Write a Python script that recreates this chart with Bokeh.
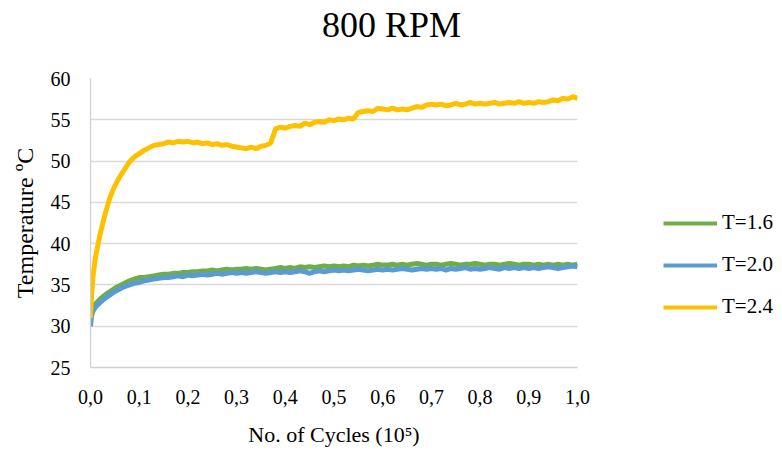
from bokeh.plotting import figure
from bokeh.models import Range1d, FixedTicker, Legend, LegendItem, Label
from bokeh.layouts import column, row
from bokeh.embed import file_html
from bokeh.resources import INLINE

# ---------------- data ----------------
cycles = [0.0, 0.002, 0.005, 0.01, 0.015] + [round(0.02 + 0.01 * i, 3) for i in range(99)]

t24 = [31.0, 33.5, 36.0, 38.3, 39.8,
       41.2, 43.6, 45.6, 47.0, 48.1, 49.0, 49.9, 50.5, 50.9,
       51.3, 51.6, 51.9, 52.0, 52.1, 52.3, 52.2, 52.4, 52.3, 52.4,
       52.2, 52.3, 52.1, 52.2, 52.0, 52.1, 51.9, 52.0, 51.8, 51.7,
       51.6, 51.5, 51.7, 51.5, 51.8, 51.9, 52.2, 53.9, 54.1, 54.0,
       54.2, 54.3, 54.2, 54.6, 54.4, 54.7, 54.8, 54.7, 55.0, 54.9,
       55.1, 55.0, 55.2, 55.1, 55.9, 56.0, 56.1, 56.0, 56.4, 56.3,
       56.2, 56.4, 56.2, 56.3, 56.2, 56.4, 56.6, 56.5, 56.8, 56.9,
       56.8, 56.9, 56.7, 56.8, 57.0, 56.8, 56.9, 57.1, 56.9, 57.0,
       56.9, 57.0, 57.1, 56.9, 57.0, 57.1, 57.0, 57.2, 57.0, 57.1,
       57.0, 57.2, 57.1, 57.2, 57.4, 57.3, 57.6, 57.5, 57.8, 57.6]

t16 = [31.0, 31.8, 32.3, 32.7, 33.0,
       33.3, 33.8, 34.2, 34.6, 34.9, 35.2, 35.5, 35.7, 35.9,
       35.9, 36.0, 36.1, 36.2, 36.3, 36.3, 36.4, 36.4, 36.5, 36.5,
       36.6, 36.6, 36.7, 36.7, 36.8, 36.7, 36.8, 36.9, 36.8, 36.9,
       36.9, 37.0, 36.9, 37.0, 36.9, 36.8, 36.9, 37.0, 37.1, 37.0,
       37.1, 37.0, 37.2, 37.1, 37.2, 37.1, 37.2, 37.3, 37.2, 37.3,
       37.2, 37.3, 37.2, 37.4, 37.3, 37.4, 37.3, 37.4, 37.5, 37.4,
       37.4, 37.5, 37.4, 37.5, 37.4, 37.5, 37.6, 37.5, 37.4, 37.5,
       37.5, 37.4, 37.5, 37.6, 37.5, 37.4, 37.5, 37.5, 37.6, 37.5,
       37.4, 37.5, 37.5, 37.4, 37.5, 37.6, 37.5, 37.4, 37.5, 37.5,
       37.4, 37.5, 37.4, 37.5, 37.4, 37.5, 37.4, 37.5, 37.4, 37.5]

t20 = [30.0, 31.2, 31.8, 32.3, 32.6,
       32.9, 33.4, 33.8, 34.2, 34.5, 34.8, 35.0, 35.2, 35.3,
       35.5, 35.6, 35.7, 35.8, 35.9, 35.9, 36.0, 36.1, 36.0, 36.2,
       36.1, 36.2, 36.3, 36.2, 36.3, 36.4, 36.3, 36.4, 36.5, 36.4,
       36.5, 36.4, 36.5, 36.6, 36.5, 36.4, 36.5, 36.6, 36.5, 36.6,
       36.5, 36.6, 36.7, 36.6, 36.4, 36.6, 36.7, 36.6, 36.7, 36.8,
       36.7, 36.8, 36.7, 36.8, 36.9, 36.8, 36.7, 36.8, 36.9, 36.8,
       36.9, 36.8, 36.9, 37.0, 36.9, 36.8, 36.9, 37.0, 36.9, 37.0,
       36.9, 37.0, 36.8, 37.0, 36.9, 37.0, 37.1, 36.9, 37.0, 36.9,
       37.0, 37.1, 37.0, 36.9, 37.1, 37.0, 37.1, 37.0, 37.1, 37.0,
       37.1, 37.0, 37.1, 37.2, 37.1, 37.0, 37.1, 37.2, 37.3, 37.2]

series_names = ["T=1.6", "T=2.0", "T=2.4"]
series_colors = ["#70AD47", "#5B9BD5", "#FFC000"]
series_values = [t16, t20, t24]

x_ticks = [0.0, 0.1, 0.2, 0.3, 0.4, 0.5, 0.6, 0.7, 0.8, 0.9, 1.0]
x_tick_labels = ["0,0", "0,1", "0,2", "0,3", "0,4", "0,5", "0,6", "0,7", "0,8", "0,9", "1,0"]
y_ticks = [25, 30, 35, 40, 45, 50, 55, 60]

title_text = "800 RPM"
FONT = "Liberation Serif"


def bare(fig):
    fig.outline_line_color = None
    fig.background_fill_color = "white"
    fig.border_fill_color = "white"
    fig.xgrid.grid_line_color = None
    fig.ygrid.grid_line_color = None


# ---------------- title strip ----------------
pt = figure(width=782, height=55, output_backend="svg", toolbar_location=None,
            x_axis_location=None, y_axis_location=None,
            min_border_left=0, min_border_right=0, min_border_top=0, min_border_bottom=0)
bare(pt)
pt.add_layout(Label(x=391, y=31, x_units="screen", y_units="screen", text=title_text,
                    text_font=FONT, text_font_size="36px", text_color="#000000",
                    text_align="center", text_baseline="alphabetic"))

# ---------------- main plot ----------------
p = figure(width=592, height=395, output_backend="svg", toolbar_location=None,
           x_range=Range1d(0, 1), y_range=Range1d(25, 60),
           min_border_left=90, min_border_right=15, min_border_top=23, min_border_bottom=83)
p.outline_line_color = None
p.background_fill_color = "white"
p.border_fill_color = "white"

p.xaxis.ticker = FixedTicker(ticks=x_ticks)
p.xaxis.major_label_overrides = {t: l for t, l in zip(x_ticks, x_tick_labels)}
p.yaxis.ticker = FixedTicker(ticks=y_ticks)
for ax in (p.xaxis[0], p.yaxis[0]):
    ax.major_tick_line_color = None
    ax.minor_tick_line_color = None
    ax.major_tick_out = 0
    ax.major_tick_in = 0
    ax.axis_line_color = "#D0D0D0"
    ax.axis_line_width = 1.3
    ax.major_label_text_font = FONT
    ax.major_label_text_font_size = "20px"
    ax.major_label_text_color = "#000000"
    ax.axis_label_text_font = FONT
    ax.axis_label_text_font_style = "normal"
    ax.axis_label_text_color = "#000000"

p.xaxis.axis_label = "No. of Cycles (10\u2075)"
p.xaxis.axis_label_text_font_size = "22px"
p.xaxis.major_label_standoff = 22
p.xaxis.axis_label_standoff = 15

p.yaxis.axis_label = "Temperature \u00baC"
p.yaxis.axis_label_text_font_size = "24px"
p.yaxis.major_label_standoff = 20
p.yaxis.axis_label_standoff = 10

p.xgrid.grid_line_color = None
p.ygrid.grid_line_color = "#D9D9D9"
p.ygrid.grid_line_width = 1.3

for vals, col in zip(series_values, series_colors):
    p.line(cycles, vals, line_color=col, line_width=5)

# ---------------- legend panel ----------------
# the same series, drawn out of view, only serve as legend keys
pl = figure(width=190, height=395, output_backend="svg", toolbar_location=None,
            x_range=Range1d(0, 1), y_range=Range1d(0, 1),
            x_axis_location=None, y_axis_location=None,
            min_border_left=0, min_border_right=0, min_border_top=0, min_border_bottom=0)
bare(pl)
keys = [pl.line(cycles, vals, line_color=col, line_width=4)
        for vals, col in zip(series_values, series_colors)]
legend = Legend(items=[LegendItem(label=n, renderers=[k]) for n, k in zip(series_names, keys)],
                location=(71, 48), orientation="vertical")
legend.padding = 0
legend.margin = 0
legend.border_line_color = None
legend.background_fill_alpha = 0
legend.label_text_font = FONT
legend.label_text_font_size = "21px"
legend.label_text_color = "#000000"
legend.glyph_width = 54
legend.glyph_height = 20
legend.label_height = 20
legend.label_standoff = 5
legend.spacing = 17
pl.add_layout(legend, "center")

layout = column(pt, row(p, pl, spacing=0), spacing=0)

open("out.html", "w").write(file_html(layout, INLINE))
